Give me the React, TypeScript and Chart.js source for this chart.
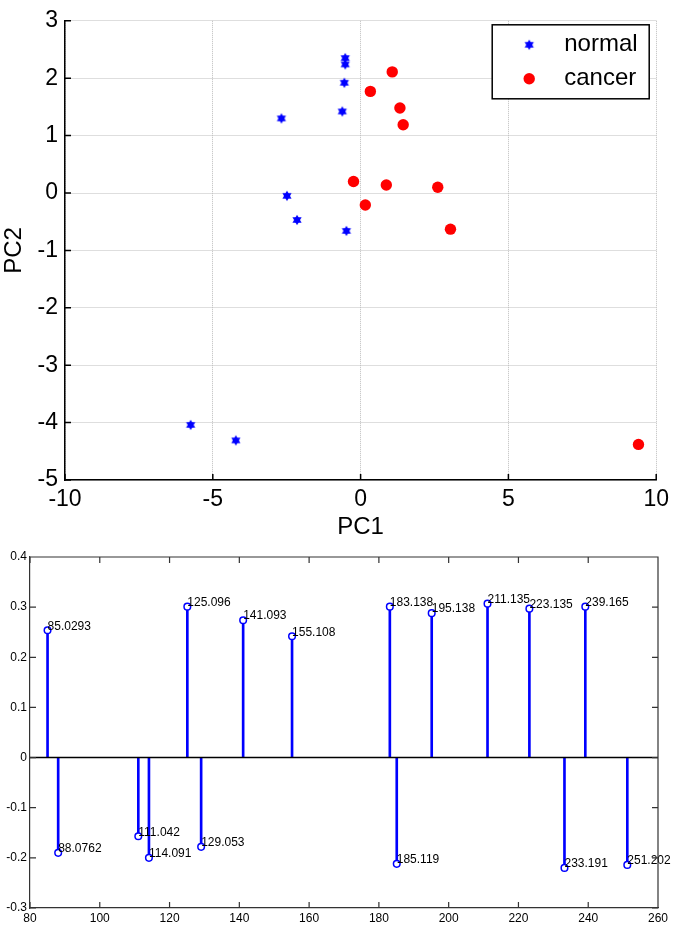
import React, { useEffect, useRef } from 'react';
import { Chart, registerables } from 'chart.js';

Chart.register(...registerables);

const FONT = '"Liberation Sans", Arial, Helvetica, sans-serif';
Chart.defaults.font.family = FONT;

// ---------- Top panel: PCA scores ----------
const normalPC1 = [-2.68, -2.49, -2.15, -0.52, -0.52, -0.55, -0.62, -0.48, -5.75, -4.22];
const normalPC2 = [1.30, -0.05, -0.47, 2.35, 2.24, 1.92, 1.42, -0.66, -4.04, -4.31];
const cancerPC1 = [1.07, 0.33, 1.33, 1.44, -0.24, 0.87, 2.61, 0.16, 3.04, 9.40];
const cancerPC2 = [2.11, 1.77, 1.48, 1.19, 0.20, 0.14, 0.10, -0.21, -0.63, -4.38];
const seriesNames = ['normal', 'cancer'];
const pcXRange = [-10, 10];
const pcYRange = [-5, 3];

// ---------- Bottom panel: loadings (stem plot) ----------
const mzValues = [85.0293, 88.0762, 111.042, 114.091, 125.096, 129.053, 141.093, 155.108,
  183.138, 185.119, 195.138, 211.135, 223.135, 233.191, 239.165, 251.202];
const mzLabels = ['85.0293', '88.0762', '111.042', '114.091', '125.096', '129.053', '141.093', '155.108',
  '183.138', '185.119', '195.138', '211.135', '223.135', '233.191', '239.165', '251.202'];
const loadings = [0.254, -0.190, -0.157, -0.200, 0.301, -0.178, 0.274, 0.242,
  0.301, -0.212, 0.288, 0.307, 0.297, -0.220, 0.301, -0.214];
const mzRange = [80, 260];
const loadRange = [-0.3, 0.4];

function makeHexagram(r: number, color: string) {
  const c = document.createElement('canvas');
  const s = 12;
  c.width = s; c.height = s;
  const g = c.getContext('2d')!;
  g.fillStyle = color;
  for (const off of [-Math.PI / 2, Math.PI / 2]) {
    g.beginPath();
    for (let i = 0; i < 3; i++) {
      const a = off + (i * 2 * Math.PI) / 3;
      g.lineTo(s / 2 + r * Math.cos(a), s / 2 + r * Math.sin(a));
    }
    g.closePath();
    g.fill();
  }
  return c;
}

function inwardTicks(id: string, len: number, box: boolean, color: string, width: number) {
  return {
    id,
    afterDraw(chart: any) {
      const { ctx, chartArea: a, scales } = chart;
      const x = scales.x, y = scales.y;
      ctx.save();
      ctx.strokeStyle = color;
      ctx.lineWidth = width;
      ctx.beginPath();
      x.ticks.forEach((t: any) => {
        const px = x.getPixelForValue(t.value);
        ctx.moveTo(px, a.bottom); ctx.lineTo(px, a.bottom - len);
        if (box) { ctx.moveTo(px, a.top); ctx.lineTo(px, a.top + len); }
      });
      y.ticks.forEach((t: any) => {
        const py = y.getPixelForValue(t.value);
        ctx.moveTo(a.left, py); ctx.lineTo(a.left + len, py);
        if (box) { ctx.moveTo(a.right, py); ctx.lineTo(a.right - len, py); }
      });
      if (box) {
        ctx.moveTo(a.left, a.top); ctx.lineTo(a.right, a.top); ctx.lineTo(a.right, a.bottom);
      }
      ctx.stroke();
      ctx.restore();
    },
  };
}

export default function App() {
  const topRef = useRef<HTMLCanvasElement>(null);
  const botRef = useRef<HTMLCanvasElement>(null);

  useEffect(() => {
    const star = makeHexagram(5.3, '#0000ff');

    const legendPlugin = {
      id: 'boxLegend',
      afterDraw(chart: any) {
        const { ctx, chartArea: a } = chart;
        const w = 157, h = 74;
        const x0 = a.right - 7 - w, y0 = a.top + 4;
        ctx.save();
        ctx.fillStyle = '#fff';
        ctx.fillRect(x0, y0, w, h);
        ctx.strokeStyle = '#000';
        ctx.lineWidth = 1.5;
        ctx.strokeRect(x0, y0, w, h);
        const rows = [y0 + 20, y0 + 54];
        ctx.drawImage(star, x0 + 37 - 6, rows[0] - 6);
        ctx.beginPath();
        ctx.fillStyle = '#ff0000';
        ctx.arc(x0 + 37, rows[1], 5.7, 0, Math.PI * 2);
        ctx.fill();
        ctx.fillStyle = '#000';
        ctx.font = `24px ${FONT}`;
        ctx.textAlign = 'left';
        ctx.textBaseline = 'middle';
        ctx.fillText(seriesNames[0], x0 + 72, rows[0]);
        ctx.fillText(seriesNames[1], x0 + 72, rows[1]);
        ctx.restore();
      },
    };

    const gridCommon = { color: '#bdbdbd', lineWidth: 1, drawTicks: false };
    const borderCommon = { display: true, color: '#000', width: 1.5, dash: [1, 1] };

    const top = new Chart(topRef.current!, {
      type: 'scatter',
      data: {
        datasets: [
          {
            label: seriesNames[0],
            data: normalPC1.map((v, i) => ({ x: v, y: normalPC2[i] })),
            pointStyle: star as any,
            pointRadius: 5,
            backgroundColor: '#0000ff',
            borderColor: '#0000ff',
          },
          {
            label: seriesNames[1],
            data: cancerPC1.map((v, i) => ({ x: v, y: cancerPC2[i] })),
            pointStyle: 'circle',
            pointRadius: 5.7,
            borderWidth: 0,
            backgroundColor: '#ff0000',
            borderColor: '#ff0000',
          },
        ],
      },
      options: {
        animation: false,
        responsive: false,
        devicePixelRatio: 1,
        events: [],
        layout: { padding: { top: 14, right: 18, bottom: 0, left: 0 } },
        plugins: { legend: { display: false }, tooltip: { enabled: false } },
        scales: {
          x: {
            type: 'linear',
            min: pcXRange[0],
            max: pcXRange[1],
            ticks: { stepSize: 5, font: { size: 23 }, color: '#000', padding: 6, maxRotation: 0 },
            grid: gridCommon,
            border: borderCommon,
            title: { display: true, text: 'PC1', color: '#000', font: { size: 24 }, padding: { top: 0, bottom: 3 } },
            afterFit(s: any) { s.height = 65; },
          },
          y: {
            type: 'linear',
            min: pcYRange[0],
            max: pcYRange[1],
            ticks: { stepSize: 1, font: { size: 23 }, color: '#000', padding: 7 },
            grid: gridCommon,
            border: borderCommon,
            title: { display: true, text: 'PC2', color: '#000', font: { size: 24 }, padding: { top: 0, bottom: 0 } },
            afterFit(s: any) { s.width = 65; },
          },
        },
      } as any,
      plugins: [inwardTicks('topTicks', 6, false, '#000', 1.5), legendPlugin],
    });

    const stemExtras = {
      id: 'stemExtras',
      afterDatasetsDraw(chart: any) {
        const { ctx, chartArea: a, scales } = chart;
        const y0 = scales.y.getPixelForValue(0);
        ctx.save();
        ctx.strokeStyle = '#000';
        ctx.lineWidth = 1.6;
        ctx.beginPath();
        ctx.moveTo(a.left, y0);
        ctx.lineTo(a.right, y0);
        ctx.stroke();
        const meta = chart.getDatasetMeta(0);
        ctx.fillStyle = '#000';
        ctx.font = `12px ${FONT}`;
        ctx.textAlign = 'left';
        ctx.textBaseline = 'middle';
        meta.data.forEach((pt: any, i: number) => {
          ctx.fillText(mzLabels[i], pt.x, pt.y - 4);
        });
        ctx.restore();
      },
    };

    const bot = new Chart(botRef.current!, {
      type: 'scatter',
      data: {
        datasets: [
          {
            type: 'scatter',
            data: mzValues.map((v, i) => ({ x: v, y: loadings[i] })),
            pointStyle: 'circle',
            pointRadius: 3.3,
            borderWidth: 1.5,
            borderColor: '#0000ff',
            backgroundColor: '#ffffff',
            order: 0,
          },
          {
            type: 'bar',
            data: mzValues.map((v, i) => ({ x: v, y: loadings[i] })),
            backgroundColor: '#0000ff',
            borderWidth: 0,
            barThickness: 2,
            order: 1,
          } as any,
        ],
      },
      options: {
        animation: false,
        responsive: false,
        devicePixelRatio: 1,
        events: [],
        layout: { padding: { top: 12, right: 17, bottom: 0, left: 0 } },
        plugins: { legend: { display: false }, tooltip: { enabled: false } },
        scales: {
          x: {
            type: 'linear',
            min: mzRange[0],
            max: mzRange[1],
            offset: false,
            ticks: { stepSize: 20, font: { size: 12 }, color: '#000', padding: 3, maxRotation: 0 },
            grid: { display: false, drawTicks: false },
            border: { display: true, color: '#333', width: 1.2 },
            afterFit(s: any) { s.height = 19; },
          },
          y: {
            type: 'linear',
            min: loadRange[0],
            max: loadRange[1],
            ticks: {
              stepSize: 0.1,
              font: { size: 12 },
              color: '#000',
              padding: 3,
              callback: (v: any) => {
                const r = Math.round(Number(v) * 10) / 10;
                return r === 0 ? '0' : String(r);
              },
            },
            grid: { display: false, drawTicks: false },
            border: { display: true, color: '#333', width: 1.2 },
            afterFit(s: any) { s.width = 30; },
          },
        },
      } as any,
      plugins: [inwardTicks('botTicks', 6, true, '#333', 1.2), stemExtras],
    });

    return () => {
      top.destroy();
      bot.destroy();
    };
  }, []);

  return (
    <div style={{ position: 'absolute', left: 0, top: 0, width: 675, height: 927, background: '#fff' }}>
      <canvas ref={topRef} width={675} height={545} style={{ position: 'absolute', left: 0, top: 0 }} />
      <canvas ref={botRef} width={675} height={382} style={{ position: 'absolute', left: 0, top: 545 }} />
    </div>
  );
}
